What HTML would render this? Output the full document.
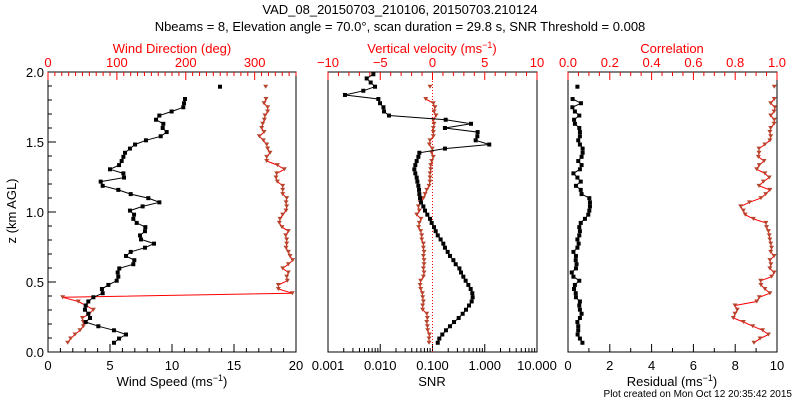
<!DOCTYPE html>
<html><head><meta charset="utf-8">
<style>
html,body{margin:0;padding:0;background:#fff;}
svg{display:block;font-family:"Liberation Sans",sans-serif;}
text{font-size:13px;}
</style></head>
<body>
<svg id="c" width="800" height="400" viewBox="0 0 800 400">
<text x="400" y="14" text-anchor="middle">VAD_08_20150703_210106, 20150703.210124</text>
<text x="400" y="31" text-anchor="middle">Nbeams = 8, Elevation angle = 70.0°, scan duration = 29.8 s, SNR Threshold = 0.008</text>
<text x="172" y="53" text-anchor="middle" fill="#f00">Wind Direction (deg)</text>
<text x="432" y="53" text-anchor="middle" fill="#f00">Vertical velocity (ms<tspan dy="-5" font-size="9">−1</tspan><tspan dy="5">)</tspan></text>
<text x="672" y="53" text-anchor="middle" fill="#f00">Correlation</text>
<text x="172" y="386" text-anchor="middle">Wind Speed (ms<tspan dy="-5" font-size="9">−1</tspan><tspan dy="5">)</tspan></text>
<text x="432" y="386" text-anchor="middle">SNR</text>
<text x="672" y="386" text-anchor="middle">Residual (ms<tspan dy="-5" font-size="9">−1</tspan><tspan dy="5">)</tspan></text>
<text x="16" y="211" text-anchor="middle" transform="rotate(-90 16 211)">z (km AGL)</text>
<text x="792" y="397" text-anchor="end" style="font-size:10px">Plot created on Mon Oct 12 20:35:42 2015</text>
</svg>
<script>
const heights=[0.066,0.096,0.125,0.155,0.184,0.214,0.243,0.273,0.302,0.332,0.361,0.391,0.420,0.450,0.479,0.509,0.538,0.568,0.597,0.627,0.656,0.686,0.715,0.745,0.774,0.804,0.833,0.863,0.892,0.922,0.951,0.981,1.010,1.040,1.069,1.099,1.128,1.158,1.187,1.217,1.246,1.276,1.305,1.335,1.364,1.394,1.423,1.453,1.482,1.512,1.541,1.571,1.600,1.630,1.659,1.689,1.718,1.748,1.777,1.807,1.836,1.866,1.895,1.925,1.954,1.984];
const windSpeed=[5.32,5.73,6.29,5.32,4.06,3.04,3.39,3.25,2.98,3.04,3.25,3.66,4.41,4.35,4.87,5.54,5.67,5.62,5.75,6.88,6.96,6.29,6.67,7.82,8.55,7.50,7.42,7.82,7.85,7.15,6.88,6.94,6.61,7.63,8.98,8.09,6.67,5.67,4.41,4.25,6.13,6.08,5.00,5.73,5.94,6.08,6.21,6.61,7.02,7.90,9.09,9.57,9.25,9.30,8.71,8.98,9.97,10.91,10.97,11.05,null,null,13.87,null,null,null];
const windDir=[28.6,32.9,39.2,46.5,51.3,51.3,49.9,60.0,65.8,55.2,44.0,21.3,354.7,334.4,334.4,347.5,346.5,348.9,340.7,348.9,355.2,351.3,348.9,345.5,346.5,346.5,345.0,348.9,339.7,335.8,336.8,340.7,345.5,346.5,345.5,346.5,340.7,340.7,340.7,333.0,331.0,332.0,343.1,333.0,317.5,317.5,322.3,318.9,317.5,312.6,306.8,313.6,310.2,311.7,314.1,315.0,318.9,318.9,313.6,316.5,null,null,316.0,null,null,null];
const snr=[0.126,0.135,0.154,0.181,0.216,0.258,0.317,0.378,0.438,0.500,0.562,0.587,0.578,0.538,0.485,0.431,0.389,0.351,0.327,0.278,0.251,0.216,0.195,0.173,0.161,0.143,0.126,0.115,0.107,0.0964,0.0895,0.0796,0.0718,0.0668,0.0603,0.0577,0.0560,0.0552,0.0536,0.0513,0.0498,0.0469,0.0449,0.0469,0.0498,0.0536,0.0560,0.173,1.22,0.670,0.721,0.731,0.173,0.546,0.179,0.0147,0.0118,0.0115,0.0099,0.0092,0.00211,0.00474,0.00794,0.00656,0.00550,0.00738];
const wVel=[-0.33,-0.33,-0.30,-0.46,-0.49,-0.55,-0.49,-0.55,-0.94,-0.94,-0.87,-0.94,-0.97,-1.13,-1.19,-1.13,-0.87,-0.81,-0.87,-0.81,-0.81,-0.87,-0.81,-0.87,-0.87,-1.03,-1.03,-1.13,-1.32,-1.26,-1.10,-1.51,-1.26,-1.35,-1.19,-0.87,-0.71,-0.55,-0.33,-0.24,-0.24,-0.24,-0.17,-0.17,-0.08,0.08,-0.08,-0.02,-0.30,-0.24,0.08,0.08,0.08,0.15,0.08,0.34,0.15,0.24,0.08,-0.65,null,null,-0.24,null,null,null];
const residual=[0.69,0.57,0.46,0.49,0.49,0.45,0.57,0.65,0.57,0.54,0.57,0.38,0.37,0.29,0.33,0.54,0.26,0.18,0.38,0.41,0.37,0.38,0.26,0.45,0.51,0.45,0.54,0.57,0.54,0.61,0.81,0.97,1.02,1.05,1.05,1.02,0.65,0.61,0.38,0.61,0.45,0.26,0.57,0.65,0.49,0.65,0.70,0.70,0.57,0.49,0.57,0.57,0.54,0.33,0.29,0.54,0.33,0.21,0.62,0.22,null,null,0.45,null,null,null];
const correlation=[0.890,0.919,0.959,0.931,0.884,0.839,0.791,0.799,0.810,0.799,0.903,0.915,0.966,0.942,0.923,0.922,0.974,0.986,0.966,0.971,0.966,0.986,0.970,0.974,0.970,0.966,0.963,0.959,0.950,0.947,0.887,0.848,0.839,0.826,0.868,0.923,0.946,0.966,0.914,0.935,0.963,0.942,0.903,0.915,0.938,0.911,0.914,0.914,0.942,0.966,0.970,0.966,0.970,0.986,0.987,0.970,0.986,0.990,0.970,0.987,null,null,0.987,null,null,null];
const yTicks=["0.0","0.5","1.0","1.5","2.0"];
const speedTicks=["0","5","10","15","20"];
const dirTicks=["0","100","200","300"];
const snrTicks=["0.001","0.010","0.100","1.000","10.000"];
const velTicks=["−10","−5","0","5","10"];
const resTicks=["0","2","4","6","8","10"];
const corTicks=["0.0","0.2","0.4","0.6","0.8","1.0"];

const svg=document.getElementById('c');
const NS='http://www.w3.org/2000/svg';
const BROWN='#b5452d';
const Y0=352,Y1=72;
function y(z){return Y0+(Y1-Y0)*z/2;}
function mk(tag,attrs,parent){const e=document.createElementNS(NS,tag);for(const k in attrs)e.setAttribute(k,attrs[k]);(parent||svg).appendChild(e);return e;}
const P1={l:48,r:296},P2={l:328,r:537},P3={l:568,r:777};
function lin(p,a,b){return v=>p.l+(v-a)/(b-a)*(p.r-p.l);}
const xSpeed=lin(P1,0,20),xDir=lin(P1,0,360);
const xVel=lin(P2,-10,10);
const xSnr=v=>P2.l+(Math.log10(v)+3)/4*(P2.r-P2.l);
const xRes=lin(P3,0,10),xCor=lin(P3,0,1);

function frame(p,name){
  const r=mk('rect',{x:p.l,y:Y1,width:p.r-p.l,height:Y0-Y1,fill:'none',stroke:'#000','stroke-width':1});
  
  
}
function tick(x1,y1,x2,y2,col,g){mk('line',{x1:x1,y1:y1,x2:x2,y2:y2,stroke:col,'stroke-width':1},g);}
function label(x,yy,t,col,anchor,name){const e=mk('text',{x:x,y:yy,'text-anchor':anchor||'middle',fill:col});e.textContent=t;
  
  }

frame(P1,'wind-panel');frame(P2,'snr-panel');frame(P3,'residual-panel');

for(let i=0;i<=20;i++){const yy=y(i/10);tick(P1.l,yy,P1.l+(i%5==0?8:4),yy,'#000');}
yTicks.forEach((t,i)=>label(44,y(i*0.5)+5,t,'#000','end','y-tick-label'));

for(let v=0;v<=20;v++){const xx=xSpeed(v);tick(xx,Y0,xx,Y0-(v%5==0?8:4),'#000');}
speedTicks.forEach((t,i)=>label(xSpeed(i*5),370,t,'#000','middle','speed-tick-label'));
for(let v=0;v<=360;v+=10){const xx=xDir(v);tick(xx,Y1,xx,Y1+(v%100==0?8:4),'#f00');}
dirTicks.forEach((t,i)=>label(xDir(i*100),67,t,'#f00','middle','direction-tick-label'));

for(let d=-3;d<1;d++){for(let m=1;m<=9;m++){const xx=xSnr(m*Math.pow(10,d));tick(xx,Y0,xx,Y0-(m==1?8:4),'#000');}}
tick(P2.r,Y0,P2.r,Y0-8,'#000');
snrTicks.forEach((t,i)=>label(xSnr(Math.pow(10,i-3)),370,t,'#000','middle','snr-tick-label'));
for(let v=-10;v<=10;v++){const xx=xVel(v);tick(xx,Y1,xx,Y1+(v%5==0?8:4),'#f00');}
velTicks.forEach((t,i)=>label(xVel(-10+i*5),67,t,'#f00','middle','velocity-tick-label'));
const zl=mk('line',{x1:xVel(0),y1:Y1,x2:xVel(0),y2:Y0,stroke:'#f00','stroke-dasharray':'1,2'});



for(let v=0;v<=10;v++){const xx=xRes(v);tick(xx,Y0,xx,Y0-(v%2==0?8:4),'#000');}
resTicks.forEach((t,i)=>label(xRes(i*2),370,t,'#000','middle','residual-tick-label'));
for(let i=0;i<=20;i++){const xx=xCor(i/20);tick(xx,Y1,xx,Y1+(i%4==0?8:4),'#f00');}
corTicks.forEach((t,i)=>label(xCor(i*0.2),67,t,'#f00','middle','correlation-tick-label'));

function series(vals,xf,lineCol,markCol,shape,name){
  const g=mk('g',{});
  
  
  let d='',pen=false;
  vals.forEach((v,i)=>{if(v==null){pen=false;return;}const X=xf(v),Y=y(heights[i]);
    d+=(pen?'L':'M')+X.toFixed(1)+' '+Y.toFixed(1);pen=true;});
  const p=mk('path',{d:d,fill:'none',stroke:lineCol,'stroke-width':1},g);
  
  
  vals.forEach((v,i)=>{if(v==null)return;const X=xf(v),Y=y(heights[i]);let m;
    if(shape=='sq'){m=mk('rect',{x:X-2,y:Y-2,width:4,height:4,fill:markCol},g);}
    else{m=mk('path',{d:`M${X-2.5} ${Y-2}L${X+2.5} ${Y-2}L${X} ${Y+2}Z`,fill:markCol},g);}
    
    
  });
}
series(windDir,xDir,'#f00',BROWN,'tri','wind-direction-series');
series(windSpeed,xSpeed,'#000','#000','sq','wind-speed-series');
series(wVel,xVel,'#f00',BROWN,'tri','vertical-velocity-series');
series(snr,xSnr,'#000','#000','sq','snr-series');
series(correlation,xCor,'#f00',BROWN,'tri','correlation-series');
series(residual,xRes,'#000','#000','sq','residual-series');
</script>
</body></html>
